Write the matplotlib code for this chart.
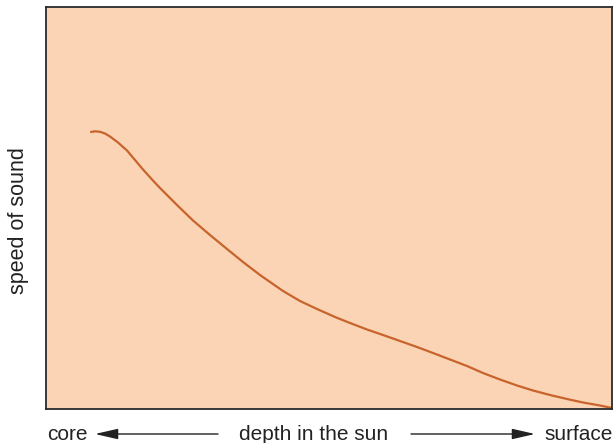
import matplotlib
matplotlib.use("Agg")
import matplotlib.pyplot as plt

# curve, arbitrary units
# depth: 0 = core edge of the box, 566 = surface; speed: 0 = bottom of the box
depth = [45, 49, 54, 59, 64, 72, 81, 89, 97, 106, 114, 131, 147, 164, 181, 197,
         214, 237, 254, 271, 289, 304, 321, 337, 354, 371, 387, 404, 421, 437,
         454, 471, 487, 504, 521, 537, 554, 566]
speed = [277, 277.7, 277.2, 275.5, 272.5, 266.5, 258.5, 249, 239.5, 229.5, 221,
         204, 188.5, 174, 160, 147, 134, 118, 108, 100, 92, 86, 79.5, 74, 68, 62,
         56, 49.5, 43, 36, 29.5, 23.5, 18.5, 14, 10, 6.5, 3.5, 1]

y_label = "speed of sound"
x_label = "depth in the sun"
left_label = "core"
right_label = "surface"

W, H = 615, 443
plt.rcParams["font.family"] = ["Liberation Sans", "DejaVu Sans"]

fig = plt.figure(figsize=(W / 100, H / 100), dpi=100)
fig.patch.set_facecolor("white")
ax = fig.add_axes([46 / W, 1 - 409 / H, (612 - 46) / W, (409 - 7) / H])
ax.set_facecolor("#fad4b5")
ax.plot(depth, speed, color="#c8632c", lw=1.6, solid_capstyle="round",
        solid_joinstyle="round")
ax.set_xlim(0, 566)
ax.set_ylim(0, 402)
ax.set_xticks([])
ax.set_yticks([])
for s in ax.spines.values():
    s.set_color("#2a2a2a")
    s.set_linewidth(1.3)

ty = 1 - 434 / H
txt = "#222222"
fig.text(19 / W, 1 - 221 / H, y_label, rotation=90, ha="center", va="center",
         fontsize=15.5, color=txt)
fig.text(47 / W, ty, left_label, ha="left", va="center", fontsize=15, color=txt)
fig.text(314 / W, ty, x_label, ha="center", va="center", fontsize=15, color=txt)
fig.text(613 / W, ty, right_label, ha="right", va="center", fontsize=15, color=txt)

arrow = dict(arrowstyle="-|>,head_length=1.4,head_width=0.32", color=txt,
             lw=1.0, shrinkA=0, shrinkB=0)
ax.annotate("", xy=(95 / W, ty), xytext=(218 / W, ty), xycoords="figure fraction",
            textcoords="figure fraction", arrowprops=arrow, annotation_clip=False)
ax.annotate("", xy=(535 / W, ty), xytext=(411 / W, ty), xycoords="figure fraction",
            textcoords="figure fraction", arrowprops=arrow, annotation_clip=False)

fig.savefig("out.png", dpi=100)
